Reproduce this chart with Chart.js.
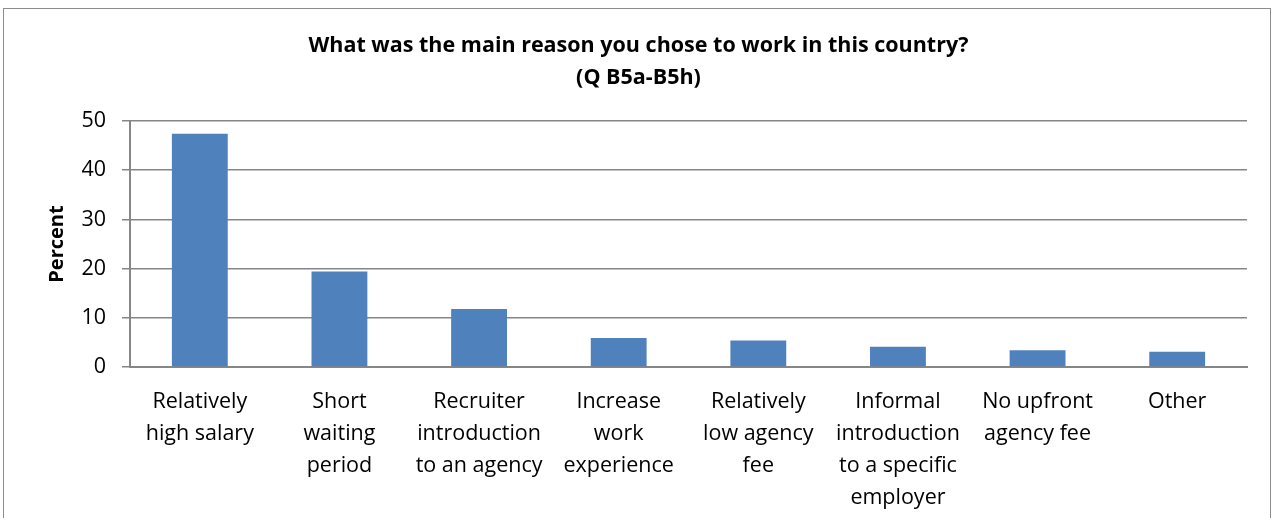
<!DOCTYPE html>
<html>
<head>
<meta charset="utf-8">
<script src="https://cdn.jsdelivr.net/npm/chart.js@4"></script>
<style>
  html, body { margin: 0; padding: 0; background: #fff; overflow: hidden; }
  #wrap { position: relative; width: 1277px; height: 518px; }
  #frame { position: absolute; left: 3px; top: 8px; width: 1268px; height: 560px; border: 1px solid #8c8c8c; box-sizing: border-box; }
  canvas { position: absolute; left: 0; top: 0; }
</style>
</head>
<body>
<div id="wrap">
  <div id="frame"></div>
  <canvas id="c" width="1277" height="518"></canvas>
</div>
<script>
const titleLines = ["What was the main reason you chose to work in this country?", "(Q B5a-B5h)"];
const yAxisTitle = "Percent";
const categories = [
  ["Relatively", "high salary"],
  ["Short", "waiting", "period"],
  ["Recruiter", "introduction", "to an agency"],
  ["Increase", "work", "experience"],
  ["Relatively", "low agency", "fee"],
  ["Informal", "introduction", "to a specific", "employer"],
  ["No upfront", "agency fee"],
  ["Other"]
];
const percentValues = [47.4, 19.4, 11.8, 5.9, 5.4, 4.1, 3.4, 3.1];
const yTicks = [0, 10, 20, 30, 40, 50];

const FONT = '"Open Sans", Lato, sans-serif';
const GRID = '#868686';

new Chart(document.getElementById('c'), {
  type: 'bar',
  data: {
    labels: categories,
    datasets: [{
      data: percentValues,
      backgroundColor: '#4F81BD',
      borderWidth: 0,
      categoryPercentage: 1.0,
      barPercentage: 0.4
    }]
  },
  options: {
    responsive: false,
    animation: false,
    devicePixelRatio: 1,
    layout: { padding: { left: 0, right: 0, top: 0, bottom: 0 } },
    plugins: {
      legend: { display: false },
      tooltip: { enabled: false },
      title: {
        display: true,
        text: titleLines,
        color: '#000',
        font: { family: FONT, size: 21.5, weight: 'bold', lineHeight: '32px' },
        padding: { top: 30, bottom: 27 }
      }
    },
    scales: {
      x: {
        grid: { display: false },
        border: { display: true, color: GRID, width: 2 },
        ticks: {
          color: '#000',
          font: { family: FONT, size: 21.5, lineHeight: '32px' },
          padding: 11,
          maxRotation: 0,
          autoSkip: false
        },
        afterFit(scale) { scale.height = 151; }
      },
      y: {
        min: 0,
        max: 50,
        afterBuildTicks(scale) { scale.ticks = yTicks.map(v => ({ value: v })); },
        grid: { color: GRID, lineWidth: 1.5, tickLength: 8, drawTicks: true },
        border: { display: true, color: GRID, width: 2 },
        ticks: {
          color: '#000',
          font: { family: FONT, size: 21.5 },
          padding: 16
        },
        title: {
          display: true,
          text: yAxisTitle,
          color: '#000',
          font: { family: FONT, size: 20, weight: 'bold', lineHeight: 1.2 },
          padding: { top: 45, bottom: 0 }
        },
        afterFit(scale) { scale.width = 130; }
      },
      ySpacer: {
        type: 'linear',
        position: 'right',
        display: true,
        min: 0,
        max: 50,
        grid: { display: false, drawOnChartArea: false },
        border: { display: false },
        ticks: { display: false },
        afterFit(scale) { scale.width = 30; }
      }
    }
  }
});
</script>
</body>
</html>
